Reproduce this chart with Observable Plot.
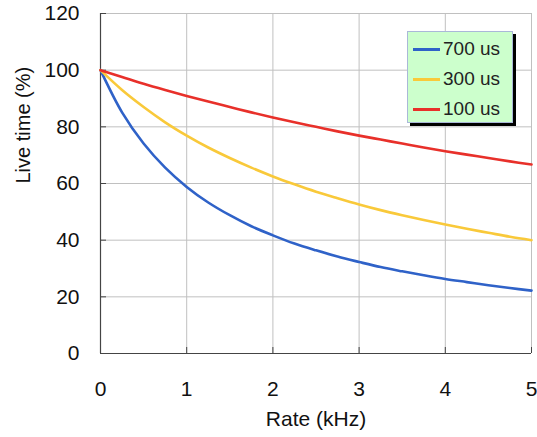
<!DOCTYPE html>
<html><head><meta charset="utf-8">
<script src="https://cdn.jsdelivr.net/npm/d3@7"></script>
<script src="https://cdn.jsdelivr.net/npm/@observablehq/plot@0.6"></script>
<style>
body{margin:0;background:#fff;font-family:"Liberation Sans",Arial,sans-serif;}
#wrap{position:relative;width:537px;height:437px;}
#legend{position:absolute;left:407px;top:31px;width:104px;height:90px;background:#ccffcc;border:1px solid #aab8d8;box-shadow:3px 3px 0 #000;}
.row{position:absolute;left:5px;height:22px;display:flex;align-items:center;font-size:19px;color:#222;}
.sw{width:27px;height:3px;margin-right:3px;}
</style></head><body>
<div id="wrap"></div>
<script>
const rate = [0,0.25,0.5,0.75,1,1.25,1.5,1.75,2,2.25,2.5,2.75,3,3.25,3.5,3.75,4,4.25,4.5,4.75,5];
const live700 = [100,85.1,74.1,65.6,58.8,53.3,48.8,44.9,41.7,38.8,36.4,34.2,32.3,30.5,29.0,27.6,26.3,25.2,24.1,23.1,22.2];
const live300 = [100,93.0,87.0,81.6,76.9,72.7,69.0,65.6,62.5,59.7,57.1,54.8,52.6,50.6,48.8,47.1,45.5,44.0,42.6,41.2,40.0];
const live100 = [100,97.6,95.2,93.0,90.9,88.9,87.0,85.1,83.3,81.6,80.0,78.4,76.9,75.5,74.1,72.7,71.4,70.2,69.0,67.8,66.7];
const seriesNames = ["700 us","300 us","100 us"];
const seriesColors = ["#2f62c8","#f9c93a","#e8302a"];
const xTicks = [0,1,2,3,4,5];
const yTicks = [0,20,40,60,80,100,120];

const allSeries = [live700, live300, live100];
const data = [];
allSeries.forEach((vals, si) => vals.forEach((v, i) => data.push({series: seriesNames[si], rate: rate[i], live: v})));

const chart = Plot.plot({
  width: 537, height: 437,
  marginLeft: 100, marginRight: 6, marginTop: 13, marginBottom: 84,
  style: {fontFamily: '"Liberation Sans", Arial, sans-serif', fontSize: "21px", color: "#111", background: "#fff"},
  x: {domain: [0,5], ticks: xTicks},
  y: {domain: [0,120], ticks: yTicks},
  color: {domain: seriesNames, range: seriesColors},
  marks: [
    Plot.gridX(xTicks, {stroke: "#c0c0c0", strokeOpacity: 1, strokeWidth: 1}),
    Plot.gridY(yTicks, {stroke: "#c0c0c0", strokeOpacity: 1, strokeWidth: 1}),
    Plot.axisX(xTicks, {tickSize: 0, tickPadding: 28, fontSize: 21, label: null}),
    Plot.axisX(xTicks, {tickSize: -6, text: null, stroke: "#444", label: null}),
    Plot.axisY(yTicks, {tickSize: 0, tickPadding: 21, fontSize: 21, label: null}),
    Plot.axisY(yTicks, {tickSize: -6, text: null, stroke: "#444", label: null}),
    Plot.text(["Rate (kHz)"], {frameAnchor: "bottom", dy: 72, fontSize: 21}),
    Plot.text(["Live time (%)"], {frameAnchor: "left", dx: -77, rotate: -90, fontSize: 20}),
    Plot.ruleX([0], {stroke: "#444", strokeWidth: 1.2}),
    Plot.ruleY([0], {stroke: "#444", strokeWidth: 1.2}),
    Plot.line(data, {x: "rate", y: "live", z: "series", stroke: "series", strokeWidth: 2.6, curve: "catmull-rom"})
  ]
});
const wrap = document.getElementById("wrap");
wrap.appendChild(chart);
const leg = document.createElement("div");
leg.id = "legend";
seriesNames.forEach((n, i) => {
  const r = document.createElement("div");
  r.className = "row";
  r.style.top = (6 + i*30) + "px";
  r.innerHTML = `<div class="sw" style="background:${seriesColors[i]}"></div><span>${n}</span>`;
  leg.appendChild(r);
});
wrap.appendChild(leg);
</script>
</body></html>
